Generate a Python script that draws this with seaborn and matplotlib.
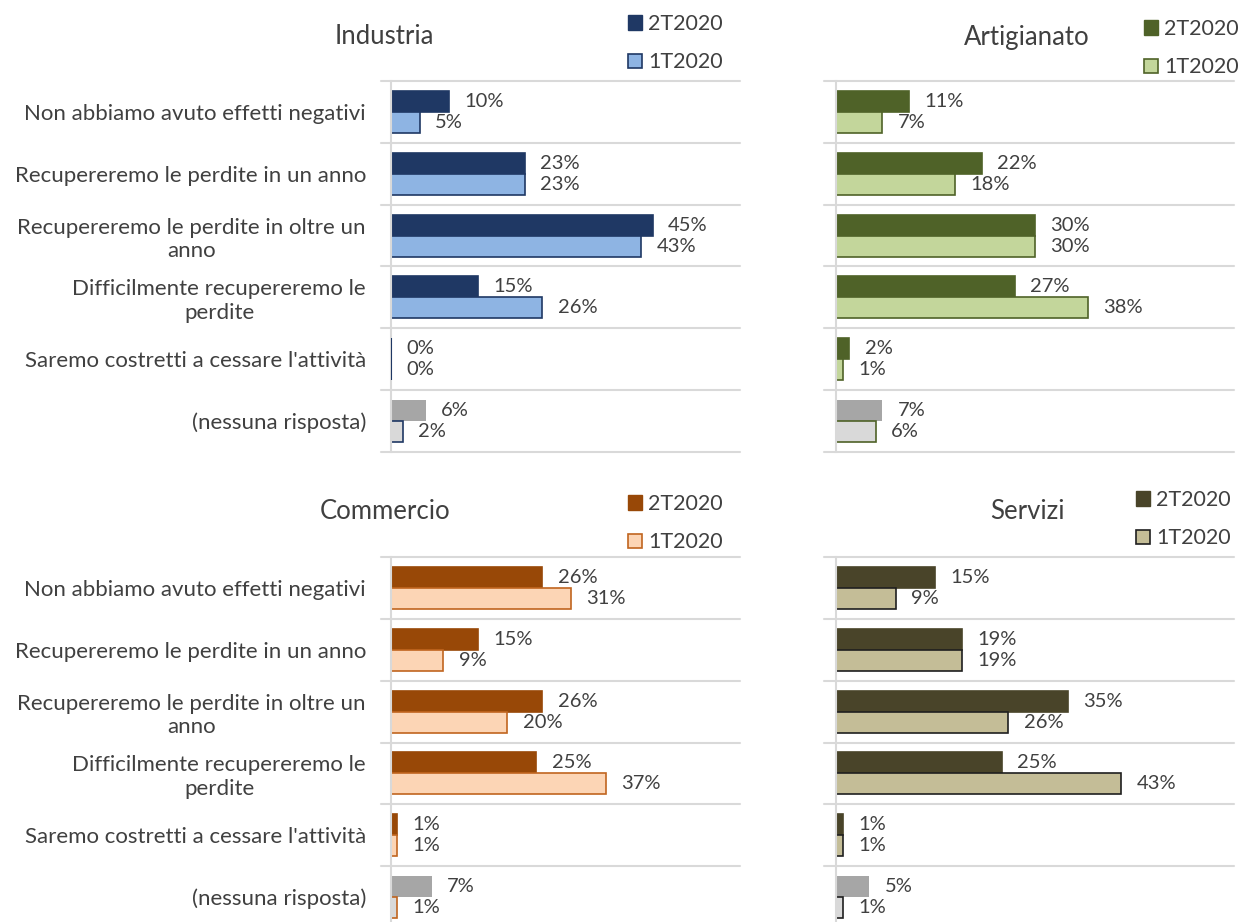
import matplotlib
matplotlib.use("Agg")
import matplotlib.pyplot as plt
from matplotlib.patches import Patch
import seaborn as sns
import pandas as pd

# categories (same for all four panels)
categories = [
    "Non abbiamo avuto effetti negativi",
    "Recupereremo le perdite in un anno",
    "Recupereremo le perdite in oltre un\nanno",
    "Difficilmente recupereremo le\nperdite",
    "Saremo costretti a cessare l'attività",
    "(nessuna risposta)",
]
periods = ["2T2020", "1T2020"]

# values in %
industria_2t = [10, 23, 45, 15, 0, 6]
industria_1t = [5, 23, 43, 26, 0, 2]
artigianato_2t = [11, 22, 30, 27, 2, 7]
artigianato_1t = [7, 18, 30, 38, 1, 6]
commercio_2t = [26, 15, 26, 25, 1, 7]
commercio_1t = [31, 9, 20, 37, 1, 1]
servizi_2t = [15, 19, 35, 25, 1, 5]
servizi_1t = [9, 19, 26, 43, 1, 1]

sns.set_theme(style="white")
plt.rcParams["font.family"] = ["Lato", "DejaVu Sans"]
TXT = "#404040"
GRID = "#d9d9d9"

fig = plt.figure(figsize=(12.49, 9.22), dpi=100)

W, H = 1249, 922

# panel: title, values, colours, axes box in pixels, title pos, legend pos
panels = [
    dict(title="Industria", v2=industria_2t, v1=industria_1t,
         dark="#1f3864", light="#8eb4e3", edge="#1f3864",
         box=(391, 81, 740, 452), tpos=(384, 36), lpos=(628, 14), labels=True),
    dict(title="Artigianato", v2=artigianato_2t, v1=artigianato_1t,
         dark="#4f6228", light="#c3d69b", edge="#4f6228",
         box=(836, 81, 1234, 452), tpos=(1027, 38), lpos=(1144, 19), labels=False),
    dict(title="Commercio", v2=commercio_2t, v1=commercio_1t,
         dark="#984807", light="#fcd5b5", edge="#c0651f",
         box=(391, 557, 740, 928), tpos=(385, 511), lpos=(628, 494), labels=True),
    dict(title="Servizi", v2=servizi_2t, v1=servizi_1t,
         dark="#494429", light="#c4bd97", edge="#1f1f1f",
         box=(836, 557, 1234, 928), tpos=(1027, 511), lpos=(1136, 490), labels=False),
]

for p in panels:
    x0, y0, x1, y1 = p["box"]
    ax = fig.add_axes([x0 / W, 1 - y1 / H, (x1 - x0) / W, (y1 - y0) / H])

    df = pd.DataFrame({
        "category": categories * 2,
        "period": [periods[0]] * 6 + [periods[1]] * 6,
        "value": p["v2"] + p["v1"],
    })
    sns.barplot(data=df, x="value", y="category", hue="period",
                hue_order=periods, order=categories, orient="h",
                width=0.68, ax=ax, legend=False, errorbar=None)

    # recolour bars
    for i, bar in enumerate(ax.containers[0]):
        c = "#a6a6a6" if i == len(categories) - 1 else p["dark"]
        bar.set_facecolor(c)
        bar.set_edgecolor(c if i < len(categories) - 1 else "none")
        bar.set_linewidth(1.2)
    for i, bar in enumerate(ax.containers[1]):
        c = "#d9d9d9" if i == len(categories) - 1 else p["light"]
        bar.set_facecolor(c)
        bar.set_edgecolor(p["edge"])
        bar.set_linewidth(1.2)

    # zero-length bars: keep their outline visible as a thin line
    for cont in ax.containers:
        for bar in cont:
            if bar.get_width() == 0:
                ax.vlines(bar.get_x(), bar.get_y(), bar.get_y() + bar.get_height(),
                          color=bar.get_edgecolor(), lw=1.5, zorder=3)

    # value labels
    for cont, vals in zip(ax.containers, [p["v2"], p["v1"]]):
        for bar, v in zip(cont, vals):
            ax.annotate(f"{v}%", (bar.get_width(), bar.get_y() + bar.get_height() / 2),
                        xytext=(11, 0), textcoords="offset points",
                        ha="left", va="center", fontsize=14.5, color=TXT)

    ax.set_xlim(0, 60)
    ax.set_ylim(len(categories) - 0.5, -0.5)
    ax.set_xlabel("")
    ax.set_ylabel("")
    ax.set_xticks([])
    for s in ["top", "right", "bottom"]:
        ax.spines[s].set_visible(False)
    ax.spines["left"].set_color(GRID)
    ax.spines["left"].set_linewidth(1.5)

    # row separators
    for k in range(len(categories) + 1):
        ax.axhline(k - 0.5, xmin=-0.03, xmax=1, color=GRID, lw=1.5,
                   clip_on=False, zorder=0)

    ax.tick_params(axis="y", length=0, pad=18)
    if p["labels"]:
        ax.set_yticks(range(len(categories)))
        ax.set_yticklabels(categories, fontsize=16, color=TXT)
        for lab in ax.get_yticklabels():
            lab.set_multialignment("center")
    else:
        ax.set_yticks([])

    fig.text(p["tpos"][0] / W, 1 - p["tpos"][1] / H, p["title"],
             ha="center", va="center", fontsize=18.5, color=TXT)

    handles = [Patch(facecolor=p["dark"], edgecolor=p["dark"], label=periods[0]),
               Patch(facecolor=p["light"], edgecolor=p["edge"], lw=1.2, label=periods[1])]
    ax.legend(handles=handles, loc="upper left", frameon=False,
              bbox_to_anchor=(p["lpos"][0] / W, 1 - p["lpos"][1] / H),
              bbox_transform=fig.transFigure, fontsize=15.5, labelcolor=TXT,
              borderpad=0, borderaxespad=0, handlelength=0.65, handleheight=0.65,
              handletextpad=0.3, labelspacing=0.85)

fig.savefig("out.png", dpi=100)
